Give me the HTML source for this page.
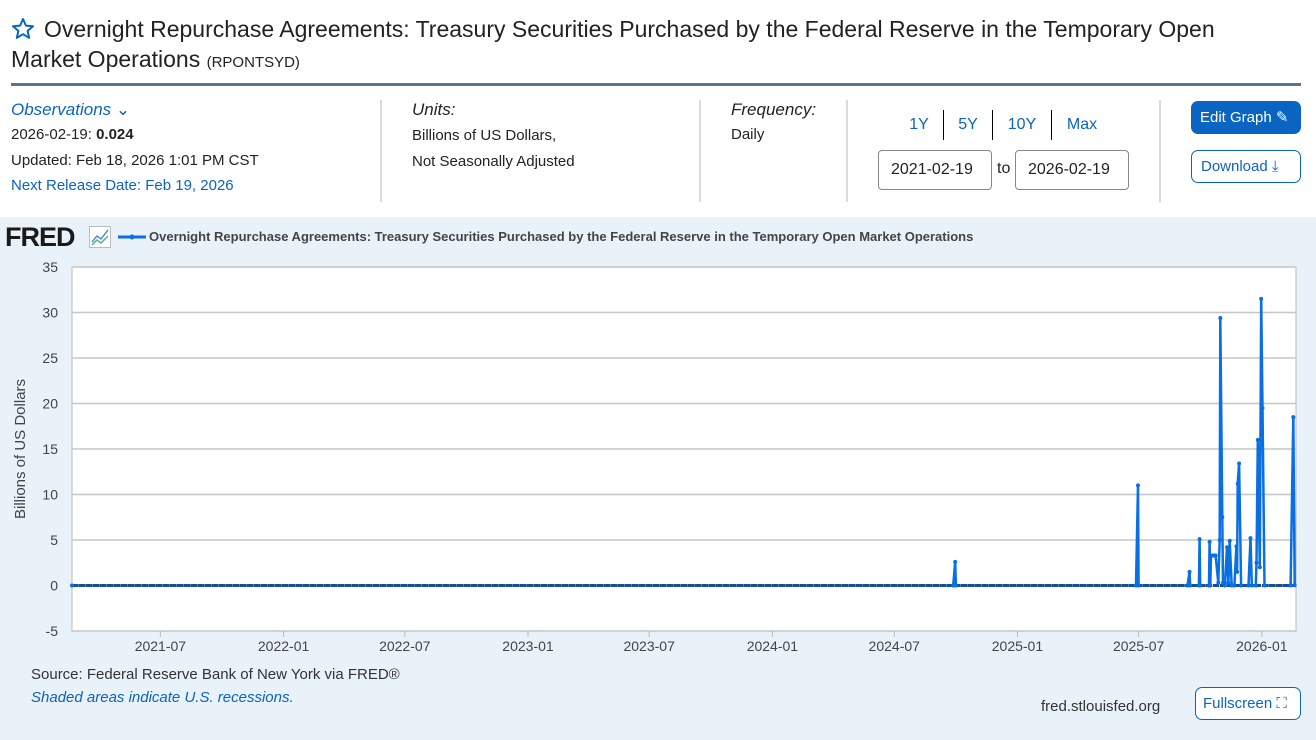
<!DOCTYPE html>
<html><head><meta charset="utf-8">
<style>
*{box-sizing:border-box;margin:0;padding:0}
body{width:1316px;height:740px;overflow:hidden;background:#fff;font-family:"Liberation Sans",Arial,sans-serif;color:#222;position:relative}
.a{position:absolute;white-space:nowrap}
.blue{color:#0a64c2}
.sep{position:absolute;width:2px;background:#d5dde3;top:100px;height:102px}
.rng{position:absolute;top:111px;height:28px;font-size:16px;color:#0a64c2;text-align:center;line-height:28px}
.inp{position:absolute;top:150px;height:40px;border:1px solid #888;border-radius:4px;font-size:16px;line-height:38px;padding-left:12px;background:#fff}
</style></head><body>
<svg class="a" style="left:11px;top:17px" width="24" height="24" viewBox="0 0 24 24"><path d="M12 2l2.9 6.6 7.1.6-5.4 4.7 1.6 7-6.2-3.7-6.2 3.7 1.6-7L2 9.2l7.1-.6z" fill="none" stroke="#0a64c2" stroke-width="2" stroke-linejoin="round"/></svg>
<div class="a" style="left:44px;top:14px;font-size:23px;line-height:30px;color:#222">Overnight Repurchase Agreements: Treasury Securities Purchased by the Federal Reserve in the Temporary Open</div>
<div class="a" style="left:11px;top:44px;font-size:23px;line-height:30px">Market Operations <span style="font-size:15px">(RPONTSYD)</span></div>
<div class="a" style="left:11px;top:83px;width:1290px;height:3px;background:#5b7489"></div>

<div class="a blue" style="left:11px;top:100px;font-size:17px;font-style:italic">Observations <span style="font-style:normal">&#8964;</span></div>
<div class="a" style="left:11px;top:126px;font-size:15px">2026-02-19: <b>0.024</b></div>
<div class="a" style="left:11px;top:152px;font-size:15px">Updated: Feb 18, 2026 1:01 PM CST</div>
<div class="a blue" style="left:11px;top:177px;font-size:15px">Next Release Date: Feb 19, 2026</div>
<div class="sep" style="left:380px"></div>
<div class="a" style="left:412px;top:100px;font-size:17px;font-style:italic">Units:</div>
<div class="a" style="left:412px;top:123px;font-size:15px;line-height:26px">Billions of US Dollars,<br>Not Seasonally Adjusted</div>
<div class="sep" style="left:699px"></div>
<div class="a" style="left:731px;top:100px;font-size:17px;font-style:italic">Frequency:</div>
<div class="a" style="left:731px;top:126px;font-size:15px">Daily</div>
<div class="sep" style="left:846px"></div>
<div class="rng" style="left:895px;width:48px">1Y</div>
<div class="a" style="left:943px;top:110px;width:1px;height:30px;background:#000"></div>
<div class="rng" style="left:944px;width:48px">5Y</div>
<div class="a" style="left:992px;top:110px;width:1px;height:30px;background:#000"></div>
<div class="rng" style="left:993px;width:58px">10Y</div>
<div class="a" style="left:1051px;top:110px;width:1px;height:30px;background:#000"></div>
<div class="rng" style="left:1052px;width:60px">Max</div>
<div class="inp" style="left:878px;width:114px">2021-02-19</div>
<div class="a" style="left:997px;top:160px;font-size:16px">to</div>
<div class="inp" style="left:1015px;width:114px">2026-02-19</div>
<div class="sep" style="left:1159px"></div>
<div class="a" style="left:1191px;top:101px;width:110px;height:33px;background:#0a64c2;border-radius:7px;color:#fff;font-size:15px;line-height:33px;padding-left:9px">Edit Graph &#9998;</div>
<div class="a" style="left:1191px;top:150px;width:110px;height:33px;border:1px solid #0a64c2;border-radius:7px;color:#0a64c2;font-size:15px;line-height:31px;padding-left:9px">Download &#10515;</div>

<div class="a" style="left:0;top:217px;width:1316px;height:523px;background:#e9f1f9"></div>
<div class="a" style="left:5px;top:222px;font-size:27px;font-weight:bold;letter-spacing:-1px;color:#1a1a1a">FRED</div>
<svg class="a" style="left:89px;top:226px" width="22" height="22"><rect x="0.5" y="0.5" width="21" height="21" fill="#fff" stroke="#bbb"/><polyline points="3,16 8,10 12,13 19,4" fill="none" stroke="#4a90d9" stroke-width="1.5"/><polyline points="3,19 8,14 12,17 19,10" fill="none" stroke="#5cae8a" stroke-width="1.5"/></svg>
<svg class="a" style="left:118px;top:232px" width="28" height="10"><line x1="0" y1="5" x2="28" y2="5" stroke="#0a6fe0" stroke-width="3"/><circle cx="14" cy="5" r="2.5" fill="#0a6fe0"/></svg>
<div class="a" style="left:149px;top:229px;font-size:13px;font-weight:bold;color:#444">Overnight Repurchase Agreements: Treasury Securities Purchased by the Federal Reserve in the Temporary Open Market Operations</div>

<svg id="chart" class="a" style="left:0;top:0" width="1316" height="740"></svg>

<div class="a" style="left:31px;top:666px;font-size:15px;color:#333">Source: Federal Reserve Bank of New York via FRED®</div>
<div class="a blue" style="left:31px;top:689px;font-size:15px;font-style:italic">Shaded areas indicate U.S. recessions.</div>
<div class="a" style="left:1041px;top:698px;font-size:15px;color:#333">fred.stlouisfed.org</div>
<div class="a" style="left:1195px;top:687px;width:106px;height:33px;border:1px solid #0a64c2;border-radius:7px;color:#0a64c2;background:#fff;font-size:15px;line-height:31px;padding-left:7px">Fullscreen &#x26F6;</div>

<script>
const yTicks=[35,30,25,20,15,10,5,0,-5];
const xTickLabels=["2021-07","2022-01","2022-07","2023-01","2023-07","2024-01","2024-07","2025-01","2025-07","2026-01"];
const obsDates=["2021-02-19","2024-09-27","2024-09-30","2024-10-01","2025-06-27","2025-06-30","2025-07-01","2025-09-12","2025-09-15","2025-09-16","2025-09-29","2025-09-30","2025-10-01","2025-10-14","2025-10-15","2025-10-16","2025-10-17","2025-10-20","2025-10-22","2025-10-24","2025-10-28","2025-10-30","2025-10-31","2025-11-03","2025-11-04","2025-11-07","2025-11-10","2025-11-12","2025-11-14","2025-11-17","2025-11-21","2025-11-24","2025-11-25","2025-11-26","2025-11-28","2025-12-01","2025-12-12","2025-12-15","2025-12-17","2025-12-23","2025-12-24","2025-12-26","2025-12-29","2025-12-31","2026-01-02","2026-01-05","2026-02-13","2026-02-17","2026-02-19"];
const obsValues=[0,0,2.6,0,0,11,0,0,1.5,0,0,5.1,0,0,4.8,0,3.3,3.3,3.3,3.3,0.3,5,29.4,7.5,0.3,0,4.2,0.3,4.9,0,0,4.3,1.5,11.2,13.4,0,0,5.2,0,0,2.5,16,2,31.5,19.5,0,0,18.5,0.024];
const NS="http://www.w3.org/2000/svg";
const svg=document.getElementById('chart');
const X0=72,X1=1296,Y0=267,Y1=631;
const t0=Date.parse("2021-02-19"),t1=Date.parse("2026-02-21");
const xs=d=>X0+(Date.parse(d)-t0)/(t1-t0)*(X1-X0);
const ys=v=>Y0+(35-v)/40*(Y1-Y0);
function mk(tag,attrs){const e=document.createElementNS(NS,tag);for(const k in attrs)e.setAttribute(k,attrs[k]);svg.appendChild(e);return e;}
const bg=mk('rect',{x:X0,y:Y0,width:X1-X0,height:Y1-Y0,fill:'#fff',stroke:'#bbb'});


yTicks.forEach(v=>{
 const g=mk('line',{x1:X0,x2:X1,y1:ys(v),y2:ys(v),stroke:'#c5c5c5','stroke-width':1.5});
 
 
 const t=mk('text',{x:58,y:ys(v)+5,'text-anchor':'end','font-size':14,fill:'#444','font-family':'Liberation Sans, sans-serif'});
 t.textContent=v;
 
 
});
xTickLabels.forEach(l=>{
 const x=xs(l+"-01");
 const tk=mk('line',{x1:x,x2:x,y1:Y1,y2:Y1+6,stroke:'#bbb'});
 
 
 const t=mk('text',{x:x,y:651,'text-anchor':'middle','font-size':14,fill:'#444','font-family':'Liberation Sans, sans-serif'});
 t.textContent=l;
 
 
});
const yt=mk('text',{x:0,y:0,transform:'translate(25,449) rotate(-90)','text-anchor':'middle','font-size':15,fill:'#444','font-family':'Liberation Sans, sans-serif'});
yt.textContent='Billions of US Dollars';


const pts=obsDates.map((d,i)=>xs(d).toFixed(1)+','+ys(obsValues[i]).toFixed(1)).join(' ');
const pl=mk('polyline',{points:pts,fill:'none',stroke:'#0a6fe0','stroke-width':2.5,'stroke-linejoin':'round'});


const zl=mk('line',{x1:X0,x2:X1,y1:ys(0),y2:ys(0),stroke:'#1a4f8a','stroke-width':3,'stroke-dasharray':'6 1'});


obsDates.forEach((d,i)=>{
 const c=mk('circle',{cx:xs(d),cy:ys(obsValues[i]),r:2,fill:'#0a6fe0'});
 
 
});
</script>
</body></html>
